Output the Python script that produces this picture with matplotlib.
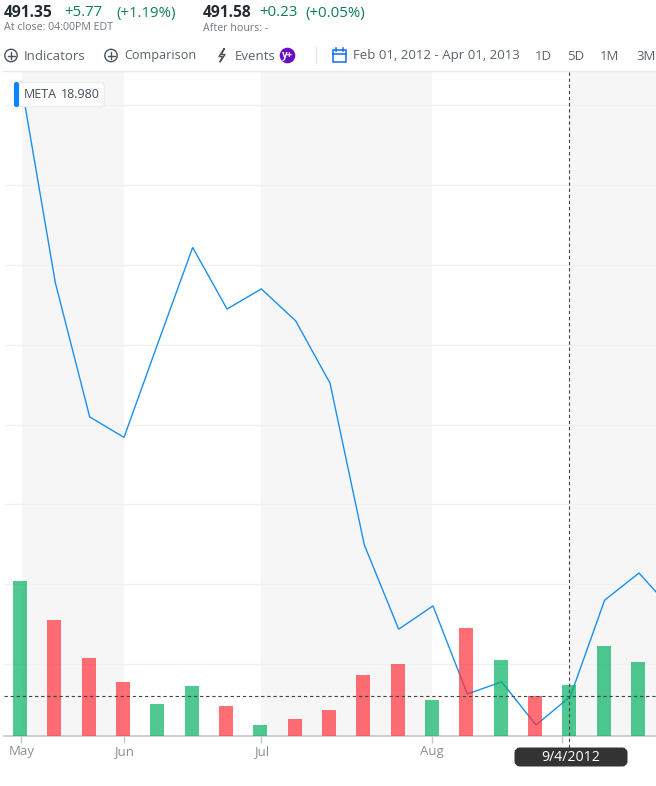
import matplotlib
matplotlib.use("Agg")
import matplotlib.pyplot as plt
from matplotlib.patches import Circle, FancyBboxPatch, Rectangle

plt.rcParams["font.family"] = ["Open Sans", "DejaVu Sans"]

W, H = 656, 786

# weekly closes, first week is the IPO week
closes = [38.23, 31.94, 27.74, 27.10, 30.09, 33.05, 31.12, 31.75, 30.75, 28.80,
          23.73, 21.09, 21.82, 19.06, 19.44, 18.09, 18.98, 22.00, 22.85, 21.66]
# volume in millions
volumes = [574, 429, 289, 200, 118, 185, 111, 41, 63, 96,
           226, 266, 133, 400, 281, 148, 189, 333, 274]
up = [1, 0, 0, 0, 1, 1, 0, 1, 0, 0, 0, 0, 1, 0, 1, 0, 1, 1, 1]

month_labels = ["May", "Jun", "Jul", "Aug", ""]
month_pos = [0.04, 3.03, 7.03, 12.01, 15.79]
shaded = [(0.06, 3.03), (7.03, 12.01), (16.0, 19.6)]
grid_prices = [20, 22.5, 25, 27.5, 30, 32.5, 35, 37.5]

cross_idx = 16
cross_price = 19.0


def px(x, y):
    # pixel position (top left origin) to figure fraction
    return x / W, 1 - y / H


def label(x, y, s, size, color, weight="normal", ha="left"):
    fx, fy = px(x, y)
    return fig.text(fx, fy, s, fontsize=size, color=color, fontweight=weight,
                    ha=ha, va="center")


fig = plt.figure(figsize=(W / 100, H / 100), dpi=100, facecolor="white")

# chart area runs from y=72 to y=736 and over the full width
ax = fig.add_axes([0, 1 - 736 / H, 1, (736 - 72) / H])
ax.set_xlim(-20 / 34.33, (656 - 20) / 34.33)
ax.set_ylim(20 - (736 - 664) / 31.92, 20 + (664 - 72) / 31.92)
ax.patch.set_visible(False)

for a, b in shaded:
    ax.axvspan(a, b, color="#f6f6f6", lw=0, zorder=0)

left_edge = 5 / W
for p in grid_prices:
    ax.axhline(p, xmin=left_edge, color="#f1f1f1", lw=1, zorder=1)

# line sits about a pixel right of the bars
xs = [i + 0.03 for i in range(len(closes))]
ax.plot(xs, closes, color="#1a90f0", lw=1.0, zorder=2, solid_joinstyle="miter")

for side in ["top", "left", "right"]:
    ax.spines[side].set_visible(False)
ax.spines["bottom"].set_bounds(-16 / 34.33, (656 - 20) / 34.33)
ax.spines["bottom"].set_color("#c4c7cc")
ax.spines["bottom"].set_linewidth(1.2)
ax.set_yticks([])
ax.set_xticks(month_pos)
ax.set_xticklabels(month_labels, fontsize=9.5, color="#8a9099")
ax.tick_params(axis="x", length=5, width=1, color="#c4c7cc", pad=1.5)

# volume bars on their own scale, same baseline
vol = ax.twinx()
vol.set_ylim(0, 664 * 3.7)
vol.patch.set_visible(False)
vol.set_yticks([])
for side in vol.spines:
    vol.spines[side].set_visible(False)
colors = ["#04b162" if u else "#ff313a" for u in up]
vol.bar(range(len(volumes)), volumes, width=14 / 34.33, color=colors, alpha=0.7,
        lw=0, zorder=3)

# crosshair
ax_top = fig.add_axes([0, 0, 1, 1], facecolor="none")
ax_top.set_xlim(0, W)
ax_top.set_ylim(H, 0)
ax_top.axis("off")

cross_x = 20 + 34.33 * cross_idx
cross_y = 664 + (20 - cross_price) * 31.92
ax_top.plot([cross_x, cross_x], [72, 748], color="#444444", lw=0.8, ls=(0, (3, 2.5)))
ax_top.plot([4, W], [cross_y, cross_y], color="#444444", lw=0.8, ls=(0, (3, 2.5)))

# date label under the crosshair
ax_top.add_patch(FancyBboxPatch((517, 750), 108, 14, boxstyle="round,pad=0,rounding_size=3",
                                mutation_aspect=1, fc="#333333", ec="#333333", lw=5 / 1.39))
label(570.5, 757.5, "9/4/2012", 10.2, "white", ha="center")

# META tag
ax_top.add_patch(FancyBboxPatch((16, 82.5), 88.5, 24, boxstyle="round,pad=0,rounding_size=3",
                                fc="#fdfdfd", ec="#ececec", lw=1, zorder=5))
ax_top.add_patch(FancyBboxPatch((14.5, 82.5), 4, 24, boxstyle="round,pad=0,rounding_size=2",
                                fc="#0a84ff", ec="#0a84ff", lw=0.8, zorder=6))
label(24, 95, "META", 9, "#464e56").set_zorder(7)
label(61, 95, "18.980", 9, "#464e56").set_zorder(7)

# header quotes
label(4, 13, "491.35", 11.2, "#232a31", weight="bold")
label(64, 13, "+5.77", 10.8, "#0c7d55")
label(116, 13, "(+1.19%)", 10.8, "#0c7d55")
label(4, 27.5, "At close: 04:00PM EDT", 7.7, "#6e7780")
label(203, 13, "491.58", 11.2, "#232a31", weight="bold")
label(259, 13, "+0.23", 10.8, "#0c7d55")
label(305, 13, "(+0.05%)", 10.8, "#0c7d55")
label(203, 28.5, "After hours: -", 7.7, "#6e7780")

# toolbar
tool_grey = "#5b636a"
for cx in [11, 111]:
    ax_top.add_patch(Circle((cx, 55.5), 6.2, fc="none", ec="#4c5359", lw=1))
    ax_top.plot([cx - 3.5, cx + 3.5], [55.5, 55.5], color="#4c5359", lw=1)
    ax_top.plot([cx, cx], [52, 59], color="#4c5359", lw=1)
label(24, 56, "Indicators", 9.5, tool_grey)
label(124, 56, "Comparison", 9.1, tool_grey)
label(235, 56, "Events", 9.5, tool_grey)
ax_top.plot([224, 219, 222.5, 220, 225, 221.5, 224],
            [49, 56.5, 56.5, 62, 54.5, 54.5, 49], color="#4c5359", lw=1)
ax_top.add_patch(Circle((287.5, 55.5), 7.8, fc="#6a0dc4", ec="none"))
label(287.5, 55.5, "y+", 7, "white", weight="bold", ha="center")
ax_top.plot([315.5, 315.5], [47, 63], color="#e4e6e8", lw=1)

# calendar icon
ax_top.add_patch(Rectangle((333, 50), 12.5, 11.5, fc="none", ec="#0f69ff", lw=1.1))
ax_top.plot([333, 345.5], [53.5, 53.5], color="#0f69ff", lw=1.1)
ax_top.plot([336, 336], [48, 51], color="#0f69ff", lw=1.1)
ax_top.plot([342.5, 342.5], [48, 51], color="#0f69ff", lw=1.1)
label(353, 56, "Feb 01, 2012 - Apr 01, 2013", 9.5, tool_grey)
for x, s in [(535, "1D"), (567, "5D"), (600, "1M"), (636, "3M")]:
    label(x, 56, s, 9.5, tool_grey)

ax_top.plot([3, W], [71, 71], color="#e6e8ea", lw=1)

fig.savefig("out.png", dpi=100)
